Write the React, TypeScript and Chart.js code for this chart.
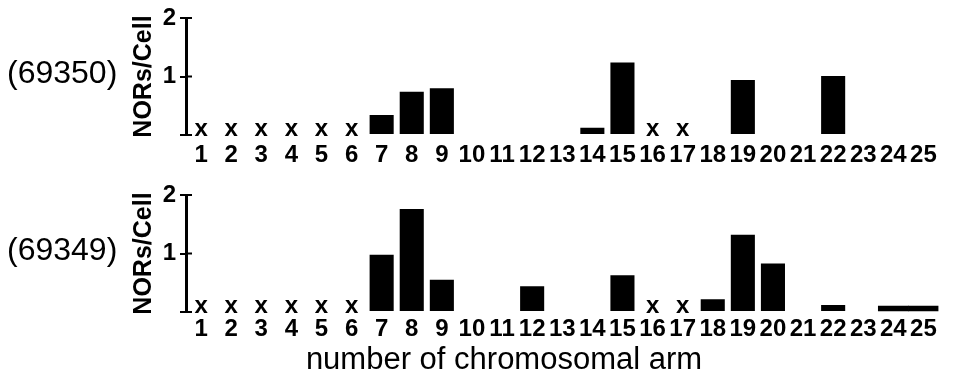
import React, { useEffect, useRef } from 'react';
import { Chart, registerables } from 'chart.js';

Chart.register(...registerables);

const arms = ['1', '2', '3', '4', '5', '6', '7', '8', '9', '10', '11', '12', '13', '14', '15', '16', '17', '18', '19', '20', '21', '22', '23', '24', '25'];
const crossArms = ['1', '2', '3', '4', '5', '6', '16', '17'];
const yTickValues = [0, 1, 2];
const panelLabels = ['(69350)', '(69349)'];
const yTitle = 'NORs/Cell';
const xTitle = 'number of chromosomal arm';

const values69350 = [null, null, null, null, null, null, 0.34, 0.74, 0.8, null, null, null, null, 0.125, 1.24, null, null, null, 0.94, null, null, 1.01, null, null, null];
const values69349 = [null, null, null, null, null, null, 0.98, 1.76, 0.55, null, null, 0.44, null, null, 0.63, null, null, 0.22, 1.32, 0.83, null, 0.12, null, null, null];
const wide69349 = [null, null, null, null, null, null, null, null, null, null, null, null, null, null, null, null, null, null, null, null, null, null, null, 0.1, 0.1];

const FAMILY = '"Liberation Sans", Arial, Helvetica, sans-serif';

type PanelProps = {
  label: string;
  series: (number | null)[];
  wide?: (number | null)[];
  top: number;
  height: number;
  padTop: number;
  xHeight: number;
  tickPad: number;
  showXTitle: boolean;
};

function Panel(props: PanelProps) {
  const ref = useRef<HTMLCanvasElement | null>(null);
  useEffect(() => {
    const canvas = ref.current;
    if (!canvas) return;
    const overlay = {
      id: 'overlay',
      afterDatasetsDraw(chart: any) {
        const ctx = chart.ctx;
        const xs = chart.scales.x;
        const ys = chart.scales.y;
        const area = chart.chartArea;
        ctx.save();
        // right half of crossing ticks
        ctx.strokeStyle = '#000';
        ctx.lineWidth = 2;
        yTickValues.forEach((v) => {
          const y = ys.getPixelForValue(v);
          ctx.beginPath();
          ctx.moveTo(area.left, y);
          ctx.lineTo(area.left + 6, y);
          ctx.stroke();
        });
        // x marks
        ctx.fillStyle = '#000';
        ctx.font = `bold 24px ${FAMILY}`;
        ctx.textAlign = 'center';
        ctx.textBaseline = 'alphabetic';
        const y0 = ys.getPixelForValue(0);
        crossArms.forEach((a) => {
          const x = xs.getPixelForValue(arms.indexOf(a));
          ctx.fillText('x', x, y0 + 1);
        });
        // panel label
        ctx.font = `32px ${FAMILY}`;
        ctx.textAlign = 'left';
        ctx.textBaseline = 'middle';
        ctx.fillText(props.label, 7, (area.top + area.bottom) / 2 - 2);
        if (props.showXTitle) {
          ctx.font = `31px ${FAMILY}`;
          ctx.textAlign = 'center';
          ctx.textBaseline = 'alphabetic';
          ctx.fillText(xTitle, 504, chart.height - 6);
        }
        ctx.restore();
      },
    };
    const datasets: any[] = [
      { data: props.series, backgroundColor: '#000', barPercentage: 0.8, categoryPercentage: 1, grouped: false },
    ];
    if (props.wide) {
      datasets.push({ data: props.wide, backgroundColor: '#000', barPercentage: 1, categoryPercentage: 1, grouped: false });
    }
    const chart = new Chart(canvas, {
      type: 'bar',
      data: { labels: arms, datasets },
      options: {
        animation: false,
        responsive: false,
        maintainAspectRatio: false,
        layout: { padding: { top: props.padTop, right: 17.5, bottom: 0, left: 0 } },
        plugins: { legend: { display: false }, tooltip: { enabled: false } },
        scales: {
          x: {
            type: 'category',
            offset: true,
            grid: { display: false, drawTicks: false },
            border: { display: false },
            ticks: {
              color: '#000',
              font: { family: FAMILY, size: 24, weight: 'bold', lineHeight: 1 },
              padding: props.tickPad,
              autoSkip: false,
              maxRotation: 0,
            },
            afterFit: (s: any) => {
              s.height = props.xHeight;
            },
          },
          y: {
            min: 0,
            max: 2,
            ticks: {
              stepSize: 1,
              color: '#000',
              font: { family: FAMILY, size: 24, weight: 'bold', lineHeight: 1 },
              padding: 4,
              callback: (v: any) => (v === 0 ? '' : String(v)),
            },
            grid: { drawOnChartArea: false, drawTicks: true, tickLength: 6, color: '#000', lineWidth: 2 },
            border: { display: true, color: '#000', width: 3 },
            title: {
              display: true,
              text: yTitle,
              color: '#000',
              font: { family: FAMILY, size: 25, weight: 'bold', lineHeight: 1 },
              padding: { top: 132, bottom: 0 },
            },
            afterFit: (s: any) => {
              s.width = 186;
            },
          },
        },
      } as any,
      plugins: [overlay],
    });
    return () => chart.destroy();
  }, []);
  return (
    <canvas
      ref={ref}
      width={956}
      height={props.height}
      style={{ position: 'absolute', left: 0, top: props.top, width: 956, height: props.height, display: 'block' }}
    />
  );
}

export default function App() {
  return (
    <div style={{ position: 'absolute', left: 0, top: 0, width: 956, height: 375, background: '#fff', overflow: 'hidden' }}>
      <Panel label={panelLabels[0]} series={values69350} top={0} height={175} padTop={18} xHeight={40} tickPad={8} showXTitle={false} />
      <Panel label={panelLabels[1]} series={values69349} wide={wide69349} top={175} height={200} padTop={20} xHeight={63} tickPad={5} showXTitle={true} />
    </div>
  );
}
